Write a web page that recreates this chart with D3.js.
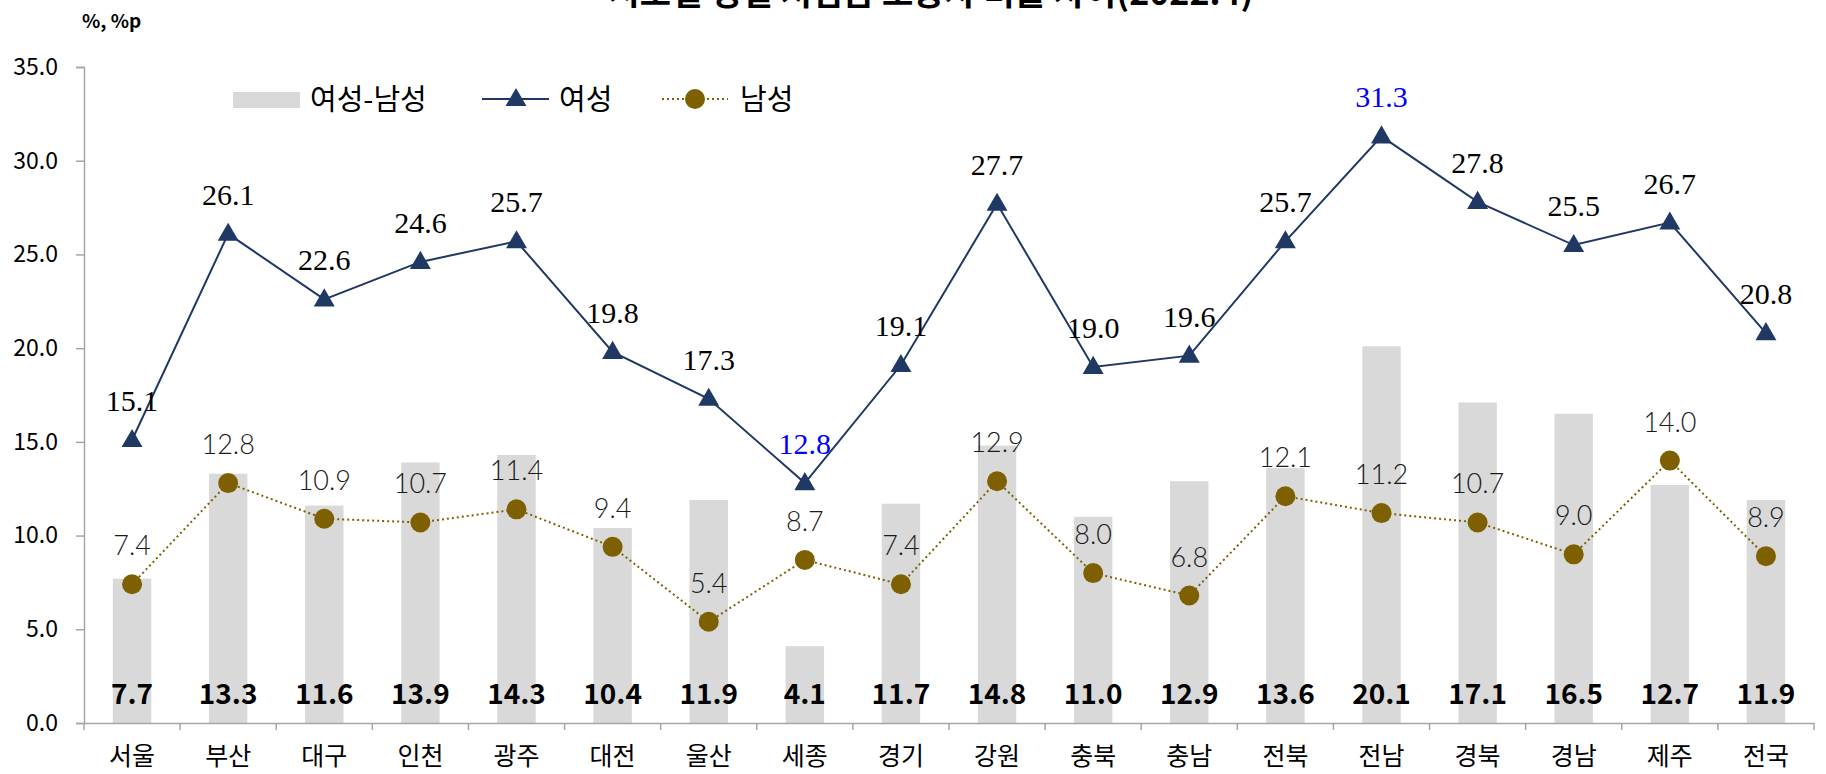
<!DOCTYPE html>
<html>
<head>
<meta charset="utf-8">
<script src="https://cdn.jsdelivr.net/npm/d3@7"></script>
<style>
  body { margin: 0; background: #fff; }
  svg { display: block; }
</style>
</head>
<body>
<svg id="chart"></svg>
<script>
const regions = ['서울', '부산', '대구', '인천', '광주', '대전', '울산', '세종', '경기',
  '강원', '충북', '충남', '전북', '전남', '경북', '경남', '제주', '전국'];
const women = [15.1, 26.1, 22.6, 24.6, 25.7, 19.8, 17.3, 12.8, 19.1,
  27.7, 19.0, 19.6, 25.7, 31.3, 27.8, 25.5, 26.7, 20.8];
const men = [7.4, 12.8, 10.9, 10.7, 11.4, 9.4, 5.4, 8.7, 7.4,
  12.9, 8.0, 6.8, 12.1, 11.2, 10.7, 9.0, 14.0, 8.9];
const gap = [7.7, 13.3, 11.6, 13.9, 14.3, 10.4, 11.9, 4.1, 11.7,
  14.8, 11.0, 12.9, 13.6, 20.1, 17.1, 16.5, 12.7, 11.9];
const yTicks = [0, 5, 10, 15, 20, 25, 30, 35];

const width = 1826, height = 774;
const margin = {top: 67, right: 12, bottom: 51, left: 84};
const navy = '#1f3864', olive = '#7f6000', barColor = '#d9d9d9', axisColor = '#a6a6a6';
const cjk = "'Noto Sans CJK KR', 'Noto Sans', sans-serif";

const svg = d3.select('#chart').attr('width', width).attr('height', height);

const x = d3.scaleBand()
    .domain(regions)
    .range([margin.left, width - margin.right])
    .paddingInner(0.6)
    .paddingOuter(0.3);

const y = d3.scaleLinear()
    .domain([0, 35])
    .range([height - margin.bottom, margin.top]);

const cx = (d) => x(d) + x.bandwidth() / 2;

// title, cut off at the top edge like the source image
svg.append('text')
    .attr('x', 931)
    .attr('y', 5)
    .attr('text-anchor', 'middle')
    .style('font-family', cjk)
    .style('font-weight', 'bold')
    .style('font-size', '34px')
    .text('시도별 성별 저임금 노동자 비율 차이(2022.4)');

svg.append('text')
    .attr('x', 82)
    .attr('y', 28)
    .style('font-family', cjk)
    .style('font-weight', 'bold')
    .style('font-size', '19px')
    .text('%, %p');

// bars: women minus men
svg.append('g')
    .selectAll('rect')
    .data(regions)
    .enter().append('rect')
    .attr('x', (d) => x(d))
    .attr('y', (d, i) => y(gap[i]))
    .attr('width', x.bandwidth())
    .attr('height', (d, i) => y(0) - y(gap[i]))
    .attr('fill', barColor);

// axes
const yAxis = svg.append('g')
    .attr('transform', `translate(${margin.left},0)`)
    .call(d3.axisLeft(y).tickValues(yTicks).tickFormat(d3.format('.1f')).tickSize(8).tickPadding(18));
yAxis.select('.domain').attr('stroke', axisColor).attr('stroke-width', 1.5);
yAxis.selectAll('.tick line').attr('stroke', axisColor).attr('stroke-width', 1.5);
yAxis.selectAll('.tick text')
    .style('font-family', cjk)
    .style('font-size', '23px')
    .attr('fill', '#000');

const xAxis = svg.append('g')
    .attr('transform', `translate(0,${y(0)})`)
    .call(d3.axisBottom(x).tickSize(0).tickPadding(24).tickSizeOuter(0));
xAxis.select('.domain').attr('stroke', axisColor).attr('stroke-width', 1.5);
xAxis.selectAll('.tick text')
    .style('font-family', cjk)
    .style('font-size', '25px')
    .attr('fill', '#000');

// category separators below the axis
const step = x.step();
svg.append('g')
    .selectAll('line')
    .data(regions.concat(['end']))
    .enter().append('line')
    .attr('x1', (d, i) => margin.left + i * step)
    .attr('x2', (d, i) => margin.left + i * step)
    .attr('y1', y(0))
    .attr('y2', y(0) + 7)
    .attr('stroke', axisColor)
    .attr('stroke-width', 1.5);

// bar value labels
svg.append('g')
    .selectAll('text')
    .data(regions)
    .enter().append('text')
    .attr('x', cx)
    .attr('y', y(0) - 19)
    .attr('text-anchor', 'middle')
    .style('font-family', cjk)
    .style('font-weight', 'bold')
    .style('font-size', '28px')
    .text((d, i) => gap[i].toFixed(1));

// men line (dotted)
const line = (vals) => d3.line()
    .x((d) => cx(d))
    .y((d, i) => y(vals[i]));

svg.append('path')
    .datum(regions)
    .attr('d', line(men))
    .attr('fill', 'none')
    .attr('stroke', olive)
    .attr('stroke-width', 2)
    .attr('stroke-dasharray', '2,3');

svg.append('g')
    .selectAll('circle')
    .data(regions)
    .enter().append('circle')
    .attr('cx', cx)
    .attr('cy', (d, i) => y(men[i]))
    .attr('r', 10)
    .attr('fill', olive);

svg.append('g')
    .selectAll('text')
    .data(regions)
    .enter().append('text')
    .attr('x', cx)
    .attr('y', (d, i) => y(men[i]) - 29)
    .attr('text-anchor', 'middle')
    .style('font-family', "Lato, 'Open Sans', sans-serif")
    .style('font-weight', 300)
    .style('font-size', '27px')
    .attr('fill', '#1a1a1a')
    .text((d, i) => men[i].toFixed(1));

// women line
svg.append('path')
    .datum(regions)
    .attr('d', line(women))
    .attr('fill', 'none')
    .attr('stroke', navy)
    .attr('stroke-width', 2);

const tri = d3.symbol().type(d3.symbolTriangle).size(190);
svg.append('g')
    .selectAll('path')
    .data(regions)
    .enter().append('path')
    .attr('d', tri)
    .attr('transform', (d, i) => `translate(${cx(d)},${y(women[i]) + 1})`)
    .attr('fill', navy);

const wMax = d3.max(women), wMin = d3.min(women);
svg.append('g')
    .selectAll('text')
    .data(regions)
    .enter().append('text')
    .attr('x', cx)
    .attr('y', (d, i) => y(women[i]) - 29)
    .attr('text-anchor', 'middle')
    .style('font-family', "'Liberation Serif', 'Times New Roman', serif")
    .style('font-size', '30px')
    .attr('fill', (d, i) => (women[i] === wMax || women[i] === wMin) ? '#0000ff' : '#000')
    .text((d, i) => women[i].toFixed(1));

// legend
const legend = svg.append('g').style('font-family', cjk).style('font-size', '29px');
legend.append('rect')
    .attr('x', 233).attr('y', 92).attr('width', 67).attr('height', 16)
    .attr('fill', barColor);
legend.append('text').attr('x', 310).attr('y', 110).text('여성-남성');

legend.append('line')
    .attr('x1', 482).attr('x2', 549).attr('y1', 99).attr('y2', 99)
    .attr('stroke', navy).attr('stroke-width', 2);
legend.append('path')
    .attr('d', tri)
    .attr('transform', 'translate(516,100)')
    .attr('fill', navy);
legend.append('text').attr('x', 559).attr('y', 110).text('여성');

legend.append('line')
    .attr('x1', 662).attr('x2', 728).attr('y1', 99).attr('y2', 99)
    .attr('stroke', olive).attr('stroke-width', 2).attr('stroke-dasharray', '2,3');
legend.append('circle')
    .attr('cx', 695).attr('cy', 99).attr('r', 10)
    .attr('fill', olive);
legend.append('text').attr('x', 740).attr('y', 110).text('남성');
</script>
</body>
</html>
